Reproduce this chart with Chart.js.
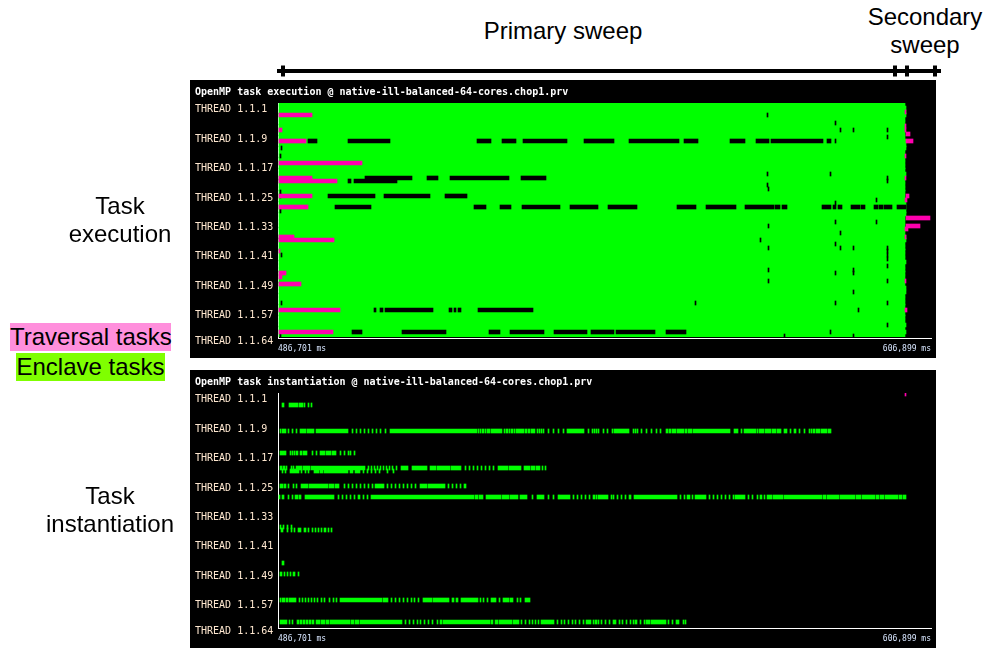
<!DOCTYPE html>
<html lang="en">

<head>
    <meta charset="UTF-8">
    <title>OpenMP task traces</title>
    <script src="https://cdn.jsdelivr.net/npm/chart.js"></script>
    <style>
        body { margin: 0; background: #fff; font-family: "Liberation Sans", sans-serif; color: #000; }
        #page { position: relative; width: 991px; height: 650px; overflow: hidden; }
        canvas { position: absolute; display: block; }
        #chart_exec, #chart_inst { background: #000; left: 190px; }
        #chart_exec { top: 80px; }
        #chart_inst { top: 370px; }
        #chart_sweep { left: 270px; top: 60px; }
        .note { position: absolute; font-size: 24px; line-height: 28px; text-align: center; white-space: nowrap; }
        .tag { position: absolute; font-size: 24px; line-height: 28px; height: 28px; text-align: center; white-space: nowrap; }
    </style>
</head>

<body>
    <div id="page">
        <canvas id="chart_sweep" width="680" height="22"></canvas>
        <canvas id="chart_exec" width="746" height="278"></canvas>
        <canvas id="chart_inst" width="746" height="278"></canvas>
        <div class="note" style="left:463px;width:200px;top:17px">Primary sweep</div>
        <div class="note" style="left:825px;width:200px;top:3px">Secondary<br>sweep</div>
        <div class="note" style="left:20px;width:200px;top:192px">Task<br>execution</div>
        <div class="note" style="left:10px;width:200px;top:482px">Task<br>instantiation</div>
        <div class="tag" style="left:10px;width:161px;top:323px;background:#ff8fdc">Traversal tasks</div>
        <div class="tag" style="left:16px;width:149px;top:353px;background:#7fff00">Enclave tasks</div>
    </div>

    <script>
        // Times are seconds since the first bin after the trace window start (486,701 ms)
        const windowStart = -0.184;
        const windowEnd = 120.198;
        const tickLength = 0.18;
        const timeLabels = ['486,701 ms', '606,899 ms'];
        const shownThreads = [1, 9, 17, 25, 33, 41, 49, 57, 64];
        const titleExec = 'OpenMP task execution @ native-ill-balanced-64-cores.chop1.prv';
        const titleInst = 'OpenMP task instantiation @ native-ill-balanced-64-cores.chop1.prv';

        const sweepTimes = [-0.37, 0.74, 113.56, 115.77, 120.93, 122.04];

        // Execution: enclave tasks run from start to end on all the threads
        const enclaveEnd = 115.40;
        const enclaveEndLate = 115.59;
        const lateThreads = [2, 3, 4, 11, 12, 13, 20, 28, 29, 30, 31, 37, 38, 44, 51, 52, 61, 63];

        // Traversal tasks [thread, start, end]
        const traversal = [
            [4, 0, 6.08], [8, 0, 0.55], [11, 0, 4.98], [17, 0, 15.30], [21, 0, 6.08], [22, 0, 10.69],
            [26, 0, 6.08], [29, 0, 5.35], [37, 0, 2.77], [38, 0, 10.14], [41, 0, 0.18], [47, 0, 1.29],
            [48, 0, 0.55], [50, 0, 4.06], [57, 0, 11.25], [63, 0, 9.95],
            [3, 115.40, 115.59], [7, 115.40, 115.59], [8, 115.40, 115.59], [9, 115.59, 116.32],
            [11, 115.59, 116.88], [15, 115.40, 115.59], [21, 115.40, 115.59], [26, 115.59, 116.14],
            [27, 115.40, 115.77], [32, 115.59, 120.01], [34, 115.59, 118.17], [35, 115.40, 115.96],
            [37, 115.40, 115.59], [49, 115.40, 115.59], [57, 115.40, 115.77]
        ];

        // Gaps with no task running
        const idle11 = [[5.35, 7.01], [12.72, 20.46], [36.50, 39.08], [41.11, 43.69], [44.98, 53.09], [56.23, 61.76],
            [64.52, 73.74], [74.66, 77.24], [83.14, 85.91], [87.93, 90.33], [90.70, 100.29], [101.02, 101.76], [102.50, 102.68]];
        const idle21 = [[15.85, 24.52], [27.28, 29.31], [31.52, 42.40], [44.61, 49.22]];
        const idle22 = [[12.72, 13.27], [13.83, 21.75]];
        const idle26 = [[9.03, 17.70], [19.36, 27.84], [30.60, 34.66]];
        const idle29 = [[10.32, 16.96], [35.95, 38.16], [40.74, 42.77], [44.80, 51.80], [53.65, 58.81], [60.65, 66.00],
            [73.37, 76.87], [78.72, 84.25], [85.91, 91.25], [91.44, 92.36], [92.73, 93.65], [100.10, 101.76],
            [102.13, 102.68], [103.05, 103.79], [105.45, 107.11], [107.29, 108.03], [109.69, 110.42],
            [110.61, 111.35], [111.53, 113.01], [113.93, 115.59]];
        const idle57 = [[17.51, 17.88], [18.62, 19.17], [19.54, 28.39], [31.34, 31.89], [32.26, 32.63], [33.00, 33.55], [36.69, 46.82]];
        const idle63 = [[13.46, 15.30], [22.68, 30.79], [38.71, 40.74], [42.58, 48.85], [50.70, 56.78], [57.52, 61.76],
            [62.13, 69.32], [71.34, 75.03]];
        const idleSpans = [[11, idle11], [21, idle21], [22, idle22], [26, idle26], [29, idle29], [57, idle57], [63, idle63]];

        // Single short gaps: [time, threads]
        const idleTicks = [
            [0.18, [15, 25, 26, 30, 64]],
            [0.37, [13, 42, 55]],
            [76.69, [55]],
            [88.67, [38]],
            [89.96, [4, 20, 23]],
            [90.15, [24, 34, 40, 46, 49]],
            [93.10, [64]],
            [101.58, [20, 63]],
            [102.50, [6, 28, 33, 39, 47, 55]],
            [103.42, [8, 36, 40]],
            [105.82, [8, 40, 46, 47, 52, 64]],
            [106.74, [57]],
            [110.06, [27, 33]],
            [112.08, [8, 10, 21, 22, 40, 41, 42, 43, 45, 49, 55, 61]]
        ];

        // Instantiation: a number is a single short event, a pair is a longer run
        const inst4 = [[0.55, 0.92], [1.84, 3.50], [3.69, 4.42], 4.61, 5.35, 5.90];
        const inst11 = [0.18, [0.55, 1.29], 1.66, 2.40, 3.13, [3.87, 4.98], [5.16, 6.45], [6.82, 12.72], 13.46, 14.19, 14.93, 15.67,
            16.41, 17.14, 17.88, 18.62, 19.54, [20.46, 36.50], 36.69, 37.05, [37.42, 37.79], 37.98, [38.34, 38.90], [39.08, 41.11],
            41.48, [41.85, 42.22], 42.40, [42.77, 43.14], 43.32, [43.69, 45.17], [45.35, 45.72], [45.90, 46.27], [46.46, 47.19],
            47.56, 47.93, 48.30, 48.67, 49.59, 50.51, 51.43, 52.36, [53.09, 56.23], 56.96, 57.70, 58.07, 58.44, 58.81, [59.73, 59.92],
            60.47, 61.39, [61.76, 64.52], 65.26, 65.63, 66.00, 66.73, 67.66, 68.58, 69.50, 70.24, [71.34, 71.71], [71.90, 72.27],
            [72.45, 73.19], [73.37, 74.66], [74.85, 75.22], [75.40, 76.14], [76.32, 83.14], [83.88, 84.62], 85.17, [85.72, 87.93],
            88.12, [88.49, 89.41], [89.59, 90.70], [90.88, 91.62], [91.81, 92.54], [93.10, 93.65], 94.20, [94.94, 95.31], 95.86,
            96.78, 97.71, 98.07, [98.44, 98.81], [99.00, 99.73], [99.92, 101.02], [101.21, 101.76]];
        const inst17 = [[0.18, 1.29], 2.03, 2.40, 2.77, [3.13, 3.50], [3.87, 4.24], [4.42, 5.16], 6.08, 6.82, [7.56, 8.48], [8.66, 9.59],
            [9.77, 10.51], 11.25, 11.98, 12.72, 13.09, 13.83];
        const inst21 = [[0.18, 0.55], [0.74, 1.11], 1.29, 2.21, 2.58, [3.13, 4.24], [4.42, 5.71], [5.90, 15.85], 16.41, 16.96, 17.51,
            18.07, 18.62, 19.17, 19.73, 20.28, 20.83, 21.57, [22.49, 23.78], [24.52, 27.28], [27.84, 28.94], [29.13, 31.52],
            [31.71, 33.55], 34.29, 35.03, 35.76, 36.50, 37.24, 37.98, 38.71, 39.45, [40.37, 42.22], [42.40, 44.61], [45.17, 46.27],
            [46.46, 47.19], [47.38, 48.12], 48.48, 49.04];
        const inst22 = [0.55, 1.11, [2.03, 3.69], 4.06, 4.79, 5.35, [6.45, 7.37], [7.56, 8.11], [8.30, 12.72], [13.09, 13.65],
            [14.01, 14.93], 15.49, 16.22, 16.96, 17.70, 18.44, 19.91, 21.02];
        const inst26 = [[0.18, 0.74], [0.92, 1.29], 1.66, 2.58, 3.13, [4.06, 5.35], [5.53, 9.03], [9.22, 10.14], [10.32, 11.06], 11.98,
            12.72, 13.46, 14.19, 14.93, 15.67, 16.41, 17.14, [17.70, 19.36], 19.91, 20.65, 21.38, 22.12, 22.86, 23.60, 24.33, 25.07,
            [25.99, 27.28], [27.47, 30.60], 31.15, 31.89, 32.63, 33.37, [34.11, 34.47]];
        const inst29 = [0, [0.55, 0.92], 1.66, 2.40, [2.95, 3.50], [3.69, 4.06], [4.79, 10.14], 10.88, 11.61, 12.35, 13.09, 13.83,
            [14.56, 14.93], 15.49, 16.22, [16.96, 35.95], [36.14, 36.69], [36.87, 37.60], [38.16, 40.93], [41.11, 42.40], [42.58, 44.06],
            [44.43, 45.72], 46.64, [47.56, 48.85], 49.59, 50.51, 51.43, [51.62, 53.65], 54.20, 54.94, 55.67, 56.41, 57.15,
            [57.89, 58.25], 58.44, [58.81, 60.65], 61.20, 61.57, 62.31, 63.05, 63.78, [64.52, 64.89], [65.44, 73.37], 73.92, 74.66,
            [75.22, 75.77], 76.14, [76.69, 78.72], 79.27, 80.01, 80.75, 81.48, 82.22, 82.96, 83.69, [84.06, 85.91], 86.46, 87.20,
            88.12, [88.67, 89.04], 89.41, [89.96, 90.88], [91.07, 92.91], [93.10, 100.10], [100.29, 100.84], [101.02, 103.24],
            [103.42, 106.19], [106.37, 107.29], [107.47, 109.87], [110.06, 110.61], [110.80, 111.53], [111.72, 114.11],
            [114.30, 114.85], [115.03, 115.59]];
        const inst37 = [0.18, 0.74, 1.47, 2.21];
        const inst38 = [[0.37, 0.74], 1.47, 2.21, 2.77, [3.50, 4.06], [4.61, 4.98], 5.35, 6.08, 6.64, 7.19, 7.74, [8.30, 8.66], 9.03, 9.59];
        const inst47 = [[0.55, 0.92]];
        const inst50 = [[0.18, 0.55], 0.92, 1.47, 2.03, [2.58, 2.95], 3.50];
        const inst57 = [[0.18, 0.37], [0.55, 1.11], [1.29, 1.66], [1.84, 3.13], 3.69, 4.24, 4.79, 5.35, 5.90, 6.45, 7.01, 7.74, 8.30, 9.22,
            9.95, 10.51, [11.25, 18.99], [19.17, 20.09], 20.65, 21.38, 22.12, 22.86, 23.60, 24.33, 24.89, 25.62, [26.55, 28.21],
            [28.39, 31.34], [31.89, 32.26], [32.63, 33.00], [33.55, 36.69], 37.05, 37.61, 38.34, [39.08, 40.00], 40.56, [41.29, 42.40],
            [42.58, 43.14], 43.87, 44.43, [45.35, 46.27]];
        const inst63 = [[0.18, 1.47], 1.84, 2.40, [3.32, 3.69], [3.87, 4.24], [4.42, 4.79], [4.98, 5.35], [5.53, 5.90], [6.08, 6.45],
            [6.82, 7.56], [7.74, 8.48], [8.66, 9.22], [9.40, 13.09], [13.28, 13.83], [14.01, 14.75], [14.93, 22.68], 23.23, 23.97, 24.70,
            25.44, 25.99, 26.73, 27.47, 28.21, 29.13, [29.68, 30.05], [30.23, 38.90], [39.08, 39.45], [39.82, 40.37], [40.56, 42.95],
            [43.14, 44.24], 44.61, 45.35, 46.09, 46.64, 47.19, 47.75, [48.30, 50.70], 51.25, 51.99, 52.54, 53.28, 54.01, 54.57, 55.31,
            56.04, [56.60, 57.52], 57.89, [58.25, 58.62], 58.81, 59.36, 60.10, 60.84, [61.57, 62.13], 62.68, 63.23, 63.97, 64.71, 65.26,
            [65.63, 66.00], 66.55, 67.29, [67.66, 68.39], [68.58, 71.34], 71.71, 72.45, [73.19, 73.74], 74.48, 74.85];
        const instEvents = [[4, inst4], [11, inst11], [17, inst17], [21, inst21], [22, inst22], [26, inst26], [29, inst29],
            [37, inst37], [38, inst38], [47, inst47], [50, inst50], [57, inst57], [63, inst63]];
        const instTraversal = [[1, 115.40, 115.59]];

        const threadLabels = [];
        for (let n = 1; n <= 64; n++) threadLabels.push('THREAD 1.1.' + n);

        function bar(thread, start, end) {
            return { x: [start, end], y: threadLabels[thread - 1] };
        }

        function eventBars(list) {
            const out = [];
            list.forEach(function (row) {
                row[1].forEach(function (e) {
                    if (Array.isArray(e)) out.push(bar(row[0], e[0], e[1]));
                    else out.push(bar(row[0], e, e + tickLength));
                });
            });
            return out;
        }

        const enclaveBars = threadLabels.map(function (l, i) {
            return bar(i + 1, 0, lateThreads.includes(i + 1) ? enclaveEndLate : enclaveEnd);
        });
        const idleBars = eventBars(idleSpans);
        idleTicks.forEach(function (t) {
            t[1].forEach(function (thread) { idleBars.push(bar(thread, t[0], t[0] + tickLength)); });
        });
        const traversalBars = traversal.map(function (t) { return bar(t[0], t[1], t[2]); });

        // Paraver draws whole pixels, so snap the bars to the pixel grid
        const snapBars = {
            id: 'snapBars',
            beforeDatasetsDraw: function (chart) {
                chart.getSortedVisibleDatasetMetas().forEach(function (meta) {
                    meta.data.forEach(function (el) {
                        const width = Math.max(1, Math.round(el.x - el.base));
                        el.base = Math.round(el.base);
                        el.x = el.base + width;
                        el.y = Math.floor(el.y);
                    });
                });
            }
        };

        // one black row stays between the last thread and the axis
        const rowClip = { left: 0, top: 0, right: 0, bottom: -1 };

        function traceChart(id, title, datasets) {
            return new Chart(document.getElementById(id).getContext('2d'), {
                type: 'bar',
                data: { labels: threadLabels, datasets: datasets },
                plugins: [snapBars],
                options: {
                    indexAxis: 'y',
                    responsive: false,
                    animation: false,
                    events: [],
                    layout: { padding: { left: 5, right: 5 } },
                    datasets: { bar: { barThickness: 4, grouped: false, borderWidth: 0 } },
                    plugins: {
                        legend: { display: false },
                        tooltip: { enabled: false },
                        title: {
                            display: true,
                            text: title,
                            align: 'start',
                            color: '#ffffff',
                            padding: { top: 6, bottom: 5 },
                            font: { family: '"DejaVu Sans Mono"', size: 10, weight: 'bold', lineHeight: 1.2 }
                        }
                    },
                    scales: {
                        x: {
                            type: 'linear',
                            min: windowStart,
                            max: windowEnd,
                            afterBuildTicks: function (scale) { scale.ticks = [{ value: windowStart }, { value: windowEnd }]; },
                            afterFit: function (scale) {
                                scale.height = 20;
                                // tick padding should not eat into the plot width
                                scale.paddingLeft = 0;
                                scale.paddingRight = 0;
                            },
                            grid: { display: false, drawTicks: false },
                            border: { color: '#ffffff', width: 1 },
                            ticks: {
                                align: 'inner',
                                autoSkip: false,
                                maxRotation: 0,
                                padding: 6,
                                color: '#d8e6ff',
                                font: { family: '"DejaVu Sans Mono"', size: 8 },
                                callback: function (v, i) { return timeLabels[i]; }
                            }
                        },
                        y: {
                            type: 'category',
                            afterFit: function (scale) { scale.width = 83; },
                            grid: { display: false, drawTicks: false },
                            border: { color: '#ffffff', width: 1 },
                            ticks: {
                                autoSkip: false,
                                crossAlign: 'far',
                                labelOffset: 5,
                                color: '#ffe8d0',
                                font: { family: '"DejaVu Sans Mono"', size: 10 },
                                callback: function (v, i) {
                                    return shownThreads.includes(i + 1) ? threadLabels[i] : '';
                                }
                            }
                        }
                    }
                }
            });
        }

        traceChart('chart_exec', titleExec, [
            { label: 'Enclave tasks', data: enclaveBars, backgroundColor: '#00ff00', order: 3, clip: rowClip },
            { label: 'Idle', data: idleBars, backgroundColor: '#000000', order: 2 },
            { label: 'Traversal tasks', data: traversalBars, backgroundColor: '#ff00ae', order: 1 }
        ]);

        traceChart('chart_inst', titleInst, [
            { label: 'Instantiation', data: eventBars(instEvents), backgroundColor: '#00ff00', order: 2 },
            { label: 'Traversal tasks', data: instTraversal.map(function (t) { return bar(t[0], t[1], t[2]); }), backgroundColor: '#ff00ae', order: 1 }
        ]);

        // Bracket over the time line with the sweep limits
        new Chart(document.getElementById('chart_sweep').getContext('2d'), {
            type: 'scatter',
            data: {
                datasets: [{
                    data: sweepTimes.map(function (t) { return { x: t, y: 0.5 }; }),
                    showLine: true,
                    clip: false,
                    borderColor: '#000000',
                    borderWidth: 4,
                    pointStyle: 'line',
                    pointRotation: 90,
                    pointRadius: function (ctx) { return ctx.dataIndex === 0 || ctx.dataIndex === sweepTimes.length - 1 ? 0 : 5.5; },
                    pointBorderWidth: 4,
                    pointBorderColor: '#000000'
                }]
            },
            options: {
                responsive: false,
                animation: false,
                events: [],
                layout: { padding: { left: 7, right: 9 } },
                plugins: { legend: { display: false }, tooltip: { enabled: false } },
                scales: {
                    x: { display: false, min: sweepTimes[0], max: sweepTimes[sweepTimes.length - 1] },
                    y: { display: false, min: 0, max: 1 }
                }
            }
        });
    </script>
</body>

</html>
